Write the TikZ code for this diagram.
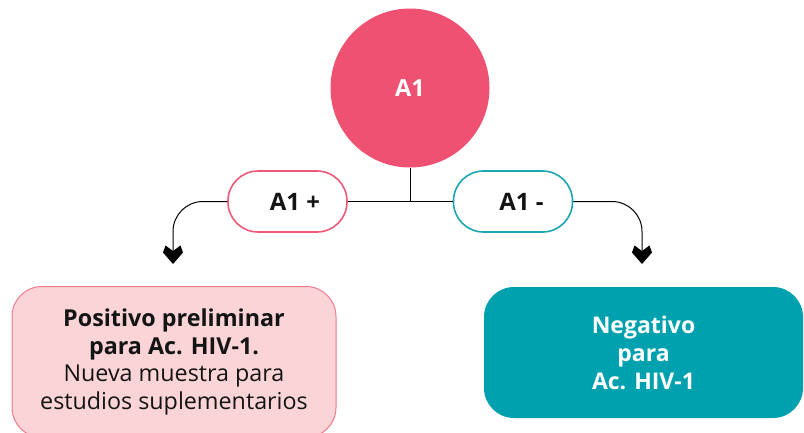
\documentclass[tikz,border=0pt]{standalone}
\usepackage{fontspec}
\setmainfont{Open Sans}
\usetikzlibrary{arrows.meta}
\definecolor{pinkc}{HTML}{EF5173}
\definecolor{pinkb}{HTML}{EC5A78}
\definecolor{tealc}{HTML}{00A1AF}
\definecolor{tealb}{HTML}{1BA5B4}
\definecolor{lpink}{HTML}{FAD4D6}
\definecolor{lpinkb}{HTML}{EE7A8E}
\definecolor{ink}{HTML}{141414}
\pgfdeclarearrow{
  name=HeartTip,
  setup code={
    \pgfarrowssettipend{0pt}
    \pgfarrowssetlineend{-12pt}
    \pgfarrowssetvisualbackend{-18.5pt}
    \pgfarrowssetbackend{-18.5pt}
    \pgfarrowshullpoint{0pt}{0pt}
    \pgfarrowshullpoint{-11.5pt}{10pt}
    \pgfarrowshullpoint{-11.5pt}{-10pt}
    \pgfarrowshullpoint{-18.5pt}{7.5pt}
    \pgfarrowshullpoint{-18.5pt}{-7.5pt}
  },
  drawing code={
    \pgfpathmoveto{\pgfpoint{0pt}{0pt}}
    \pgfpathlineto{\pgfpoint{-11.5pt}{10pt}}
    \pgfpathlineto{\pgfpoint{-18.5pt}{7.5pt}}
    \pgfpathlineto{\pgfpoint{-13pt}{0pt}}
    \pgfpathlineto{\pgfpoint{-18.5pt}{-7.5pt}}
    \pgfpathlineto{\pgfpoint{-11.5pt}{-10pt}}
    \pgfpathclose
    \pgfusepathqfill
  }
}
\tikzset{
  conn/.style={line width=1pt, draw=black},
  tipc/.style={-{HeartTip}},
  pill/.style={rectangle, rounded corners=30pt, line width=1.6pt, fill=white,
    minimum width=119pt, minimum height=61pt, inner sep=0pt,
    font=\bfseries\fontsize{24}{28}\selectfont, text=ink},
  bigc/.style={circle, fill=pinkc, minimum size=159pt, inner sep=0pt,
    font=\bfseries\fontsize{23.5}{28}\selectfont, text=white},
  resbox/.style={rectangle, rounded corners=30pt, align=center, inner sep=0pt}
}
\begin{document}
\begin{tikzpicture}[x=1pt,y=-1pt]
\clip (0,0) rectangle (804,432);
\fill[white] (0,0) rectangle (804,432);
\node[bigc] (a1) at (410,88) {A1};
\node[pill, draw=pinkb] (pp) at (287.5,201.5) {\hspace*{15pt}A1 +};
\node[pill, draw=tealb] (pm) at (513,201.5) {\hspace*{17pt}A1 -};
\node[resbox, fill=lpink, draw=lpinkb, line width=1pt,
  minimum width=324pt, minimum height=151pt, text=ink,
  font=\fontsize{23.3}{27.5}\selectfont] (pos) at (174,362)
  {\textbf{Positivo preliminar}\\\textbf{para Ac. HIV-1.}\\Nueva muestra para\\estudios suplementarios};
\node[resbox, fill=tealc, minimum width=319pt, minimum height=131pt,
  text=white, font=\bfseries\fontsize{23}{28}\selectfont] (neg) at (643.5,352.5)
  {Negativo\\para\\Ac. HIV-1};
\coordinate (lend) at (173,264);
\coordinate (rend) at (642,264);
\draw[conn] (pp.east) -- (pm.west);
\draw[conn] (a1.south) -- (a1.south |- pp.east);
\draw[conn, tipc, rounded corners=30pt] (pp.west) -- (lend |- pp.west) -- (lend);
\draw[conn, tipc, rounded corners=30pt] (pm.east) -- (rend |- pm.east) -- (rend);
\end{tikzpicture}
\end{document}
